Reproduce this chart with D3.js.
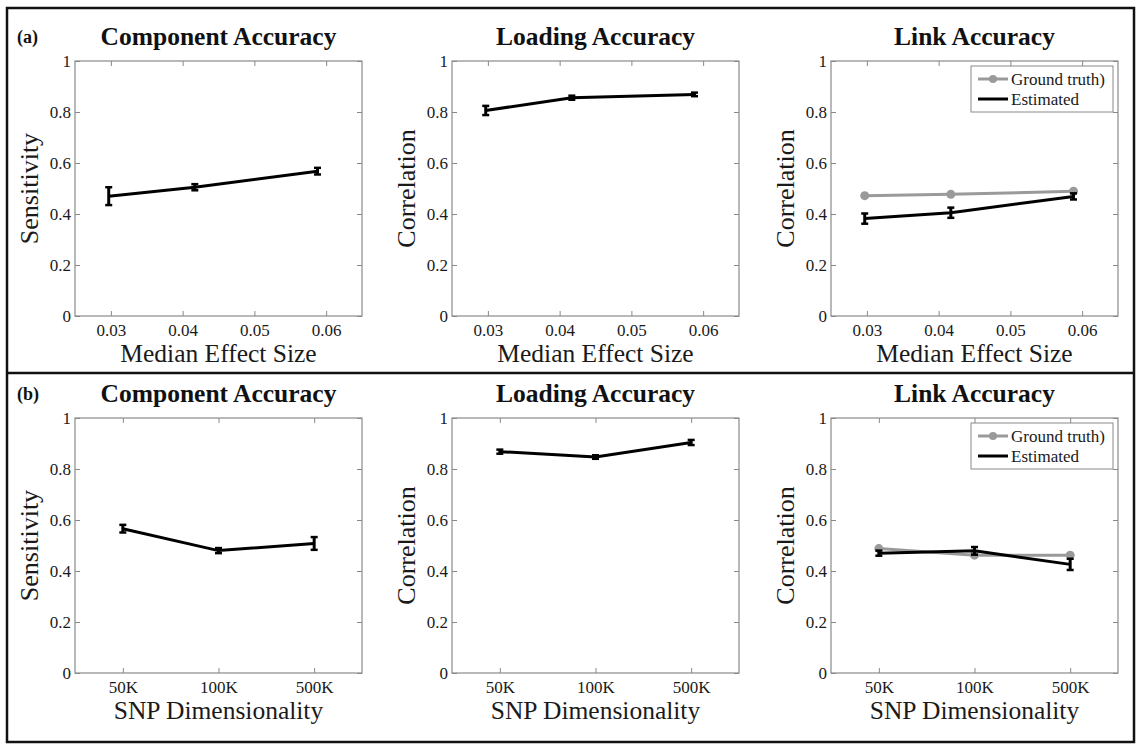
<!DOCTYPE html>
<html>
<head>
<meta charset="utf-8">
<script src="https://cdn.jsdelivr.net/npm/d3@7"></script>
<style>
  body { margin: 0; background: #fff; }
  svg text { font-family: "Liberation Serif", "DejaVu Serif", "Times New Roman", Times, serif !important; }
</style>
</head>
<body>
<script>
// data
var effectSize = [0.0297, 0.0417, 0.0588];
var effectTicks = [0.03, 0.04, 0.05, 0.06];
var snpLabels = ["50K", "100K", "500K"];
var yTicks = [0, 0.2, 0.4, 0.6, 0.8, 1];

var compA = [0.470, 0.505, 0.568], compAErr = [0.035, 0.012, 0.013];
var loadA = [0.806, 0.856, 0.869], loadAErr = [0.018, 0.008, 0.007];
var linkTruthA = [0.472, 0.477, 0.489];
var linkEstA = [0.382, 0.405, 0.469], linkEstAErr = [0.020, 0.020, 0.012];

var compB = [0.566, 0.480, 0.508], compBErr = [0.015, 0.010, 0.025];
var loadB = [0.868, 0.847, 0.904], loadBErr = [0.008, 0.007, 0.010];
var linkTruthB = [0.488, 0.462, 0.462];
var linkEstB = [0.470, 0.479, 0.426], linkEstBErr = [0.010, 0.015, 0.022];

var FONT = "'Liberation Serif', 'DejaVu Serif', 'Times New Roman', serif";
var W = 1139, H = 745;
var colLeft = [75, 452, 831], pw = 287, ph = 255;
var rowTop = [61, 418];

var svg = d3.select("body").append("svg")
    .attr("width", W)
    .attr("height", H)
    .attr("font-family", FONT);

// outer frame + separator
svg.append("rect")
    .attr("x", 7).attr("y", 8)
    .attr("width", 1127).attr("height", 734)
    .attr("fill", "none").attr("stroke", "#111").attr("stroke-width", 2.5);
svg.append("line")
    .attr("x1", 7).attr("x2", 1134).attr("y1", 373).attr("y2", 373)
    .attr("stroke", "#111").attr("stroke-width", 2.5);

var panels = [
    {row: 0, col: 0, title: "Component Accuracy", ylab: "Sensitivity", tag: "(a)", kind: "effect", est: compA, err: compAErr},
    {row: 0, col: 1, title: "Loading Accuracy", ylab: "Correlation", kind: "effect", est: loadA, err: loadAErr},
    {row: 0, col: 2, title: "Link Accuracy", ylab: "Correlation", kind: "effect", est: linkEstA, err: linkEstAErr, truth: linkTruthA},
    {row: 1, col: 0, title: "Component Accuracy", ylab: "Sensitivity", tag: "(b)", kind: "snp", est: compB, err: compBErr},
    {row: 1, col: 1, title: "Loading Accuracy", ylab: "Correlation", kind: "snp", est: loadB, err: loadBErr},
    {row: 1, col: 2, title: "Link Accuracy", ylab: "Correlation", kind: "snp", est: linkEstB, err: linkEstBErr, truth: linkTruthB}
];

panels.forEach(function (p) {
    var left = colLeft[p.col], top = rowTop[p.row];
    var g = svg.append("g").attr("transform", "translate(" + left + "," + top + ")");

    var y = d3.scaleLinear().domain([0, 1]).range([ph, 0]);
    var x, xs, xTickVals, xFmt, xlab;
    if (p.kind === "effect") {
        x = d3.scaleLinear().domain([0.025, 0.065]).range([0, pw]);
        xs = effectSize;
        xTickVals = effectTicks;
        xFmt = d3.format(".2f");
        xlab = "Median Effect Size";
    } else {
        x = d3.scaleLinear().domain([0.5, 3.5]).range([0, pw]);
        xs = [1, 2, 3];
        xTickVals = [1, 2, 3];
        xFmt = function (d) { return snpLabels[d - 1]; };
        xlab = "SNP Dimensionality";
    }

    // axes, MATLAB-style box with inward ticks
    var axL = g.append("g").call(d3.axisLeft(y).tickValues(yTicks).tickSize(-5).tickPadding(4).tickFormat(d3.format("~g")));
    var axB = g.append("g").attr("transform", "translate(0," + ph + ")")
        .call(d3.axisBottom(x).tickValues(xTickVals).tickSize(-5).tickPadding(8).tickFormat(xFmt));
    var axR = g.append("g").attr("transform", "translate(" + pw + ",0)")
        .call(d3.axisRight(y).tickValues(yTicks).tickSize(-5).tickFormat(""));
    var axT = g.append("g")
        .call(d3.axisTop(x).tickValues(xTickVals).tickSize(-5).tickFormat(""));
    [axL, axB, axR, axT].forEach(function (a) {
        a.attr("font-family", FONT);
        a.select(".domain").remove();
        a.selectAll(".tick line").attr("stroke", "#888");
        a.selectAll("text").attr("font-size", 17).attr("fill", "#1a1a1a");
    });
    g.append("rect")
        .attr("width", pw).attr("height", ph)
        .attr("fill", "none").attr("stroke", "#8a8a8a").attr("stroke-width", 1.2);

    // title, labels
    g.append("text")
        .attr("x", pw / 2).attr("y", -16)
        .attr("text-anchor", "middle")
        .attr("font-size", 25.5).attr("font-weight", "bold")
        .attr("fill", "#111")
        .text(p.title);
    g.append("text")
        .attr("x", pw / 2).attr("y", ph + 46)
        .attr("text-anchor", "middle")
        .attr("font-size", 25.5)
        .attr("fill", "#1a1a1a")
        .text(xlab);
    g.append("text")
        .attr("transform", "translate(-37," + (ph / 2) + ") rotate(-90)")
        .attr("text-anchor", "middle")
        .attr("font-size", 26)
        .attr("fill", "#1a1a1a")
        .text(p.ylab);
    if (p.tag) {
        svg.append("text")
            .attr("x", 17).attr("y", top - 18)
            .attr("font-size", 18).attr("font-weight", "bold")
            .attr("fill", "#111")
            .text(p.tag);
    }

    var line = d3.line()
        .x(function (d, i) { return x(xs[i]); })
        .y(function (d) { return y(d); });

    if (p.truth) {
        g.append("path")
            .datum(p.truth)
            .attr("d", line)
            .attr("fill", "none").attr("stroke", "#9a9a9a").attr("stroke-width", 3);
        g.selectAll(".dot").data(p.truth).enter().append("circle")
            .attr("cx", function (d, i) { return x(xs[i]); })
            .attr("cy", function (d) { return y(d); })
            .attr("r", 4.5)
            .attr("fill", "#9a9a9a");
    }

    g.append("path")
        .datum(p.est)
        .attr("d", line)
        .attr("fill", "none").attr("stroke", "#000").attr("stroke-width", 3);

    // error bars
    var eb = g.selectAll(".eb").data(p.est).enter().append("g");
    eb.append("line")
        .attr("x1", function (d, i) { return x(xs[i]); })
        .attr("x2", function (d, i) { return x(xs[i]); })
        .attr("y1", function (d, i) { return y(d - p.err[i]); })
        .attr("y2", function (d, i) { return y(d + p.err[i]); })
        .attr("stroke", "#000").attr("stroke-width", 3);
    [-1, 1].forEach(function (s) {
        eb.append("line")
            .attr("x1", function (d, i) { return x(xs[i]) - 3.5; })
            .attr("x2", function (d, i) { return x(xs[i]) + 3.5; })
            .attr("y1", function (d, i) { return y(d + s * p.err[i]); })
            .attr("y2", function (d, i) { return y(d + s * p.err[i]); })
            .attr("stroke", "#000").attr("stroke-width", 2.5);
    });

    // legend
    if (p.truth) {
        var lg = g.append("g").attr("transform", "translate(" + (pw - 147) + ",5)");
        lg.append("rect")
            .attr("width", 142).attr("height", 46)
            .attr("fill", "#fff").attr("stroke", "#8a8a8a").attr("stroke-width", 1);
        lg.append("line").attr("x1", 7).attr("x2", 37).attr("y1", 13).attr("y2", 13)
            .attr("stroke", "#9a9a9a").attr("stroke-width", 3);
        lg.append("circle").attr("cx", 22).attr("cy", 13).attr("r", 4).attr("fill", "#9a9a9a");
        lg.append("line").attr("x1", 7).attr("x2", 37).attr("y1", 33).attr("y2", 33)
            .attr("stroke", "#000").attr("stroke-width", 3);
        lg.append("text").attr("x", 40).attr("y", 19).attr("font-size", 17).attr("fill", "#1a1a1a").text("Ground truth)");
        lg.append("text").attr("x", 40).attr("y", 39).attr("font-size", 17).attr("fill", "#1a1a1a").text("Estimated");
    }
});
</script>
</body>
</html>
